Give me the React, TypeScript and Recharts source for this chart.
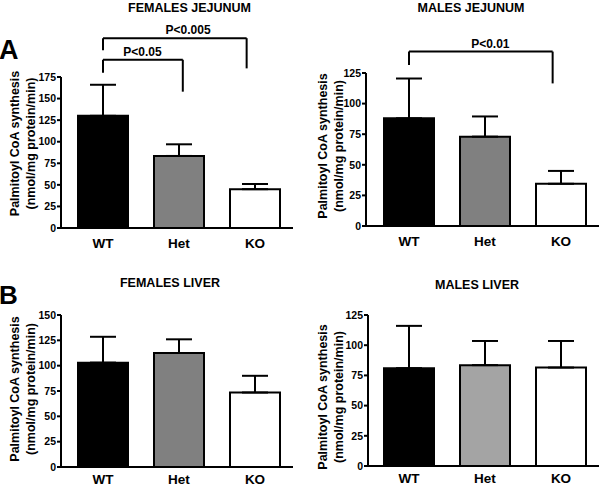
import { BarChart, Bar, XAxis, YAxis, ErrorBar, Cell, ReferenceLine, ReferenceDot } from 'recharts'

const groups = ['WT', 'Het', 'KO']

// mean and upper SD of each group
const femJejMean = [130, 83.5, 45]
const femJejSd = [36, 13.5, 6]
const maleJejMean = [88, 73, 34.5]
const maleJejSd = [32.5, 16.5, 10.5]
const femLivMean = [103, 112.5, 73.5]
const femLivSd = [25.5, 13.5, 16.5]
const maleLivMean = [81, 83.5, 81.5]
const maleLivSd = [35, 20, 22]

const femJejTicks = [0, 25, 50, 75, 100, 125, 150, 175]
const maleJejTicks = [0, 25, 50, 75, 100, 125]
const femLivTicks = [0, 25, 50, 75, 100, 125, 150]
const maleLivTicks = [0, 25, 50, 75, 100, 125]

const fills = ['#000000', '#808080', '#ffffff']
const lightFills = ['#000000', '#a4a4a4', '#ffffff']

type Bracket = {
    from: number
    to: number
    top: number
    leftEnd: number
    rightEnd: number
    label: string
    labelAt: number
}

const femJejBrackets: Bracket[] = [
    { from: 0, to: 1.89, top: 220, leftEnd: 206, rightEnd: 185, label: 'P<0.005', labelAt: 1.12 },
    { from: 0, to: 1.05, top: 195, leftEnd: 180, rightEnd: 158, label: 'P<0.05', labelAt: 0.52 },
]
const maleJejBrackets: Bracket[] = [
    { from: 0, to: 1.89, top: 142.5, leftEnd: 131.5, rightEnd: 116.5, label: 'P<0.01', labelAt: 1.07 },
]

const axisLine = { stroke: '#000', strokeWidth: 2 }

type PanelProps = {
    left: number
    top: number
    height: number
    marginTop: number
    marginRight: number
    axisWidth: number
    xHeight: number
    xPad: number
    labelGap: number
    means: number[]
    sds: number[]
    colors: string[]
    ticks: number[]
    brackets?: Bracket[]
}

function Panel(p: PanelProps) {
    const data = p.means.map((m, i) => ({ idx: i, mean: m, err: [0, p.sds[i]] }))
    const yMax = p.ticks[p.ticks.length - 1]
    return (
        <div style={{ position: 'absolute', left: p.left, top: p.top }}>
            <BarChart
                width={300}
                height={p.height}
                data={data}
                margin={{ top: p.marginTop, right: p.marginRight, bottom: 0, left: 0 }}
            >
                <XAxis
                    dataKey="idx"
                    type="number"
                    domain={[-0.5, 2.5]}
                    allowDataOverflow
                    ticks={[0, 1, 2]}
                    interval={0}
                    tickFormatter={(v) => groups[v]}
                    padding={{ left: p.xPad, right: 0 }}
                    height={p.xHeight}
                    axisLine={axisLine}
                    tickLine={false}
                    tickSize={0}
                    tickMargin={p.labelGap}
                    tick={{ fill: '#000', fontSize: 13.5, fontWeight: 'bold' }}
                />
                <YAxis
                    width={p.axisWidth}
                    domain={[0, yMax]}
                    ticks={p.ticks}
                    interval={0}
                    axisLine={axisLine}
                    tickLine={{ stroke: '#000', strokeWidth: 2 }}
                    tickSize={4}
                    tickMargin={1}
                    tick={{ fill: '#000', fontSize: 10.5, fontWeight: 'bold' }}
                />
                <Bar dataKey="mean" barSize={50} stroke="#000" strokeWidth={2} isAnimationActive={false}>
                    {data.map((d, i) => (
                        <Cell key={d.idx} fill={p.colors[i]} />
                    ))}
                    <ErrorBar
                        dataKey="err"
                        direction="y"
                        width={13}
                        stroke="#000"
                        strokeWidth={2}
                        isAnimationActive={false}
                    />
                </Bar>
                {(p.brackets || []).flatMap((b, i) => [
                    <ReferenceLine
                        key={`h${i}`}
                        segment={[{ x: b.from, y: b.top }, { x: b.to, y: b.top }]}
                        stroke="#000"
                        strokeWidth={2}
                        ifOverflow="visible"
                    />,
                    <ReferenceLine
                        key={`l${i}`}
                        segment={[{ x: b.from, y: b.top }, { x: b.from, y: b.leftEnd }]}
                        stroke="#000"
                        strokeWidth={2}
                        ifOverflow="visible"
                    />,
                    <ReferenceLine
                        key={`r${i}`}
                        segment={[{ x: b.to, y: b.top }, { x: b.to, y: b.rightEnd }]}
                        stroke="#000"
                        strokeWidth={2}
                        ifOverflow="visible"
                    />,
                    <ReferenceDot
                        key={`t${i}`}
                        x={b.labelAt}
                        y={b.top}
                        r={0}
                        fill="none"
                        stroke="none"
                        ifOverflow="visible"
                        label={{ value: b.label, position: 'top', offset: 4, fill: '#000', fontSize: 12, fontWeight: 'bold' }}
                    />,
                ])}
            </BarChart>
        </div>
    )
}

function YLabel({ x, y }: { x: number; y: number }) {
    return (
        <g fontSize={12.5} fontWeight="bold" textAnchor="middle" dominantBaseline="central">
            <text transform={`translate(${x},${y}) rotate(-90)`}>Palmitoyl CoA synthesis</text>
            <text transform={`translate(${x + 16},${y}) rotate(-90)`}>(nmol/mg protein/min)</text>
        </g>
    )
}

export default function App() {
    return (
        <div
            style={{
                position: 'absolute',
                left: 0,
                top: 0,
                width: 600,
                height: 488,
                background: '#fff',
                fontFamily: '"Liberation Sans", Arial, sans-serif',
            }}
        >
            <Panel
                left={0} top={0} height={250} marginTop={77} marginRight={7}
                axisWidth={61} xHeight={22} xPad={4} labelGap={10}
                means={femJejMean} sds={femJejSd} colors={fills} ticks={femJejTicks}
                brackets={femJejBrackets}
            />
            <Panel
                left={300} top={0} height={250} marginTop={73} marginRight={1}
                axisWidth={66} xHeight={24} xPad={5} labelGap={10}
                means={maleJejMean} sds={maleJejSd} colors={fills} ticks={maleJejTicks}
                brackets={maleJejBrackets}
            />
            <Panel
                left={0} top={250} height={238} marginTop={65} marginRight={7}
                axisWidth={61} xHeight={21} xPad={4} labelGap={7}
                means={femLivMean} sds={femLivSd} colors={fills} ticks={femLivTicks}
            />
            <Panel
                left={300} top={250} height={238} marginTop={65} marginRight={1}
                axisWidth={68} xHeight={22} xPad={3} labelGap={7}
                means={maleLivMean} sds={maleLivSd} colors={lightFills} ticks={maleLivTicks}
            />
            <svg
                width={600}
                height={488}
                style={{ position: 'absolute', left: 0, top: 0, pointerEvents: 'none' }}
            >
                <text x={-1} y={59} fontSize={27} fontWeight="bold">A</text>
                <text x={-1} y={304} fontSize={26} fontWeight="bold">B</text>
                <g fontSize={12.5} fontWeight="bold" textAnchor="middle">
                    <text x={189.5} y={12}>FEMALES JEJUNUM</text>
                    <text x={471} y={12}>MALES JEJUNUM</text>
                    <text x={170} y={287}>FEMALES LIVER</text>
                    <text x={477} y={289}>MALES LIVER</text>
                </g>
                <YLabel x={15} y={143.5} />
                <YLabel x={322.5} y={146} />
                <YLabel x={14.5} y={389} />
                <YLabel x={323} y={397} />
            </svg>
        </div>
    )
}
